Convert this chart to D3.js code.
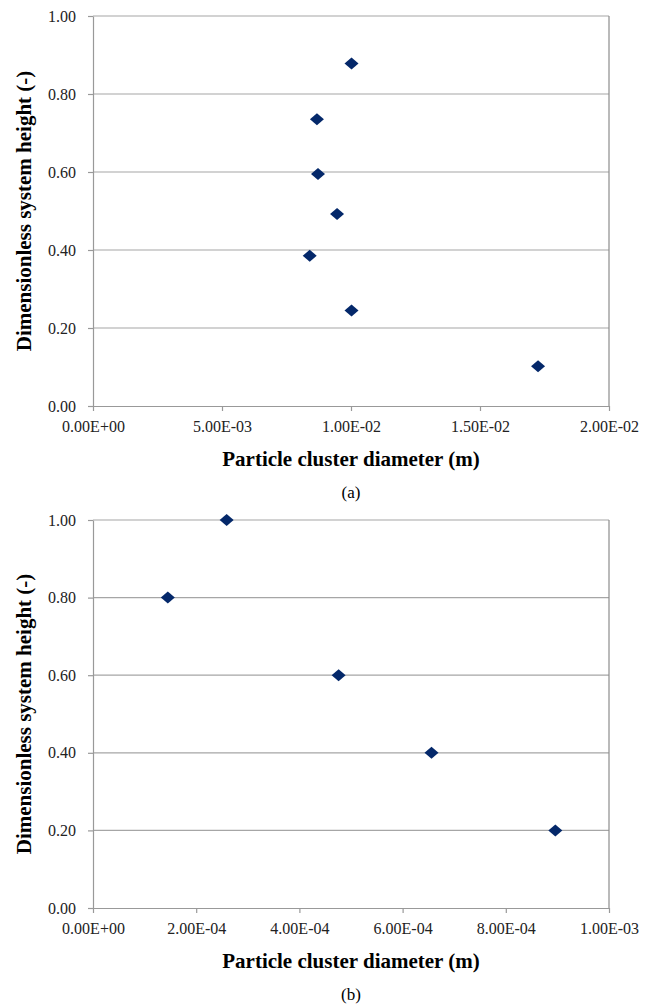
<!DOCTYPE html>
<html>
<head>
<meta charset="utf-8">
<script src="https://cdn.jsdelivr.net/npm/d3@7"></script>
<style>
  body { margin: 0; background: #fff; }
</style>
</head>
<body>
<svg id="chart" width="651" height="1006"></svg>
<script>

// panel (a)
var diamA = [0.01002, 0.00868, 0.00872, 0.00946, 0.00840, 0.01002, 0.01725];
var heightA = [0.878, 0.735, 0.595, 0.492, 0.385, 0.245, 0.102];
var xTicksA = [0, 0.005, 0.01, 0.015, 0.02];

// panel (b)
var diamB = [0.000259, 0.000145, 0.000476, 0.000656, 0.000896];
var heightB = [1.0, 0.8, 0.6, 0.4, 0.2];
var xTicksB = [0, 0.0002, 0.0004, 0.0006, 0.0008, 0.001];

var yTicks = [0, 0.2, 0.4, 0.6, 0.8, 1.0];

var serif = '"Liberation Serif", "DejaVu Serif", "Times New Roman", Times, serif';

var svg = d3.select('#chart').attr('font-family', serif);
var left = 93, right = 609;

function sciFmt(v) {
    var s = v.toExponential(2).toUpperCase();
    var parts = s.split('E');
    var exp = +parts[1];
    var sign = exp < 0 ? '-' : '+';
    var e = Math.abs(exp);
    return parts[0] + 'E' + sign + (e < 10 ? '0' + e : e);
}

function drawPanel(top, bottom, xs, ys, xTicks, label) {

    var g = svg.append('g');

    var scaleX = d3.scaleLinear()
        .domain([xTicks[0], xTicks[xTicks.length - 1]])
        .range([left, right]);

    var scaleY = d3.scaleLinear()
        .domain([0, 1])
        .range([bottom, top]);

    // gridlines
    g.selectAll('.grid')
        .data(yTicks.slice(1))
        .enter()
        .append('line')
        .attr('x1', left)
        .attr('x2', right)
        .attr('y1', d => scaleY(d))
        .attr('y2', d => scaleY(d))
        .attr('stroke', '#a6a6a6')
        .attr('stroke-width', 1.2);

    // right border
    g.append('line')
        .attr('x1', right).attr('x2', right)
        .attr('y1', top).attr('y2', bottom)
        .attr('stroke', '#8c8c8c')
        .attr('stroke-width', 1.2);

    var axisY = d3.axisLeft(scaleY)
        .tickValues(yTicks)
        .tickFormat(d3.format('.2f'))
        .tickSizeInner(5)
        .tickSizeOuter(0)
        .tickPadding(12);

    var axisX = d3.axisBottom(scaleX)
        .tickValues(xTicks)
        .tickFormat(sciFmt)
        .tickSizeInner(5)
        .tickSizeOuter(0)
        .tickPadding(10);

    var gy = g.append('g')
        .attr('transform', 'translate(' + left + ',0)')
        .call(axisY);

    var gx = g.append('g')
        .attr('transform', 'translate(0,' + bottom + ')')
        .call(axisX);

    [gx, gy].forEach(function (a) {
        a.attr('font-family', serif).attr('font-size', 16);
        a.selectAll('path, line').attr('stroke', '#999').attr('stroke-width', 1.2);
        a.selectAll('text').attr('fill', '#222');
    });

    // points
    var pts = xs.map((d, i) => ({ x: d, y: ys[i] }));
    g.selectAll('.pt')
        .data(pts)
        .enter()
        .append('path')
        .attr('d', 'M0,-6 L7,0 L0,6 L-7,0 Z')
        .attr('transform', d => 'translate(' + scaleX(d.x) + ',' + scaleY(d.y) + ')')
        .attr('fill', '#04286a');

    g.append('text')
        .attr('x', (left + right) / 2)
        .attr('y', bottom + 60)
        .attr('text-anchor', 'middle')
        .attr('font-size', 21)
        .attr('font-weight', 'bold')
        .text('Particle cluster diameter (m)');

    g.append('text')
        .attr('x', (left + right) / 2)
        .attr('y', bottom + 92)
        .attr('text-anchor', 'middle')
        .attr('font-size', 17)
        .text(label);

    g.append('text')
        .attr('transform', 'translate(31,' + ((top + bottom) / 2) + ') rotate(-90)')
        .attr('text-anchor', 'middle')
        .attr('font-size', 21)
        .attr('font-weight', 'bold')
        .text('Dimensionless system height (-)');
}

drawPanel(16, 406, diamA, heightA, xTicksA, '(a)');
drawPanel(520, 908, diamB, heightB, xTicksB, '(b)');

</script>
</body>
</html>
